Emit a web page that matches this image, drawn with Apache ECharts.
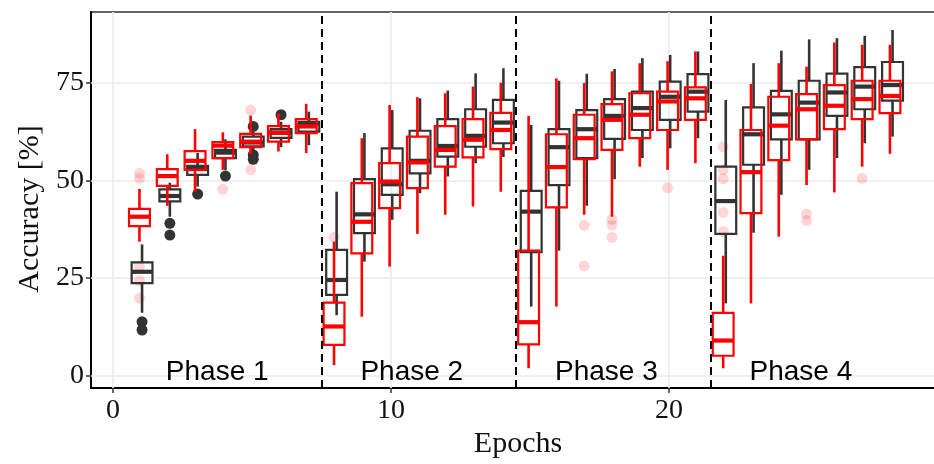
<!DOCTYPE html>
<html>
<head>
<meta charset="utf-8">
<script src="https://cdn.jsdelivr.net/npm/echarts@6/dist/echarts.min.js"></script>
<style>html,body{margin:0;padding:0;background:#fff}#c{width:934px;height:464px}</style>
</head>
<body>
<div id="c"></div>
<script>
// ---- data ----
const epochs = [1,2,3,4,5,6,7,8,9,10,11,12,13,14,15,16,17,18,19,20,21,22,23,24,25,26,27,28];
// [low whisker, Q1, median, Q3, high whisker]
const darkStats = [
  [16.1,23.7,26.6,29.0,33.6],[40.7,44.6,46.0,47.7,49.4],[48.4,51.4,52.9,53.7,57.0],[52.6,55.7,57.1,57.8,60.5],
  [57.5,58.7,59.7,61.2,62.5],[58.5,60.9,62.2,63.1,65.0],[59.0,62.5,64.6,65.0,67.6],
  [15.5,20.7,24.5,32.2,47.1],[29.2,36.5,41.3,50.3,62.1],[39.9,46.3,49.0,58.2,68.0],[46.7,51.8,55.0,62.7,71.0],
  [51.0,56.1,58.8,65.7,73.0],[54.4,58.6,61.4,68.2,77.4],[56.0,59.5,64.8,70.6,78.7],
  [17.7,31.6,42.0,47.3,64.2],[32.0,48.8,58.5,63.1,75.5],[43.5,55.7,63.1,68.0,77.3],[50.3,60.6,66.5,70.8,78.5],
  [55.7,62.9,68.5,72.7,81.3],[58.2,65.5,71.4,75.3,82.1],[60.8,67.6,72.7,77.2,83.0],
  [18.5,36.3,44.7,53.5,70.6],[36.6,54.0,61.8,68.7,80.0],[46.3,60.5,66.9,72.9,83.2],[52.7,60.5,69.9,75.5,86.1],
  [55.7,66.5,72.5,77.3,86.4],[59.5,68.2,74.0,79.0,87.0],[61.2,70.4,74.4,80.3,88.5]
];
const redStats = [
  [34.3,38.3,40.7,42.7,47.8],[43.5,48.6,51.1,52.9,56.7],[47.1,52.7,55.0,57.5,63.1],[52.7,55.7,58.9,59.8,62.3],
  [56.7,58.5,59.9,61.9,66.6],[57.4,59.9,62.2,63.9,67.2],[57.0,62.1,63.8,65.7,69.6],
  [2.7,7.9,12.6,18.7,34.3],[15.1,31.3,39.4,49.3,60.8],[27.9,42.9,49.7,54.4,69.3],[36.3,48.0,54.6,61.2,71.3],
  [41.2,53.5,57.8,63.9,72.3],[43.3,55.9,60.4,65.7,74.0],[47.1,58.0,62.9,67.3,75.0],
  [1.9,8.0,13.7,32.0,66.5],[17.7,43.1,53.4,61.8,76.1],[41.2,55.4,60.8,66.8,74.9],[40.7,57.8,65.5,69.5,77.9],
  [53.5,60.8,66.8,72.3,80.0],[52.7,62.9,70.2,72.7,80.5],[54.4,65.5,71.0,73.8,83.0],
  [1.9,5.1,9.0,16.1,30.7],[18.5,41.6,52.1,62.9,74.7],[35.6,55.2,64.0,71.4,80.0],[48.8,60.5,68.2,72.1,79.1],
  [46.9,63.1,69.1,74.4,85.3],[53.5,65.7,70.8,75.5,84.7],[56.8,67.2,71.6,75.5,84.7]
];
const darkOutliers = [[1,13.8],[1,11.7],[2,39.0],[2,36.0],[3,46.5],[4,51.1],[5,63.8],[5,56.5],[5,55.4],[6,66.8]];
const redOutliers = [[1,51.8],[1,50.5],[1,27.9],[1,24.3],[1,19.8],[4,47.7],[5,68.0],[5,52.7],[8,35.4],
  [17,38.5],[17,28.1],[18,40.0],[18,38.6],[18,35.4],[20,48.1],[22,58.6],[22,52.7],[22,50.4],[22,41.8],[22,36.9],
  [25,41.4],[25,39.7],[27,50.5]];
const phaseBreaks = [7.5, 14.5, 21.5];
const phaseNames = ['Phase 1','Phase 2','Phase 3','Phase 4'];
const phaseX = [3.75, 10.75, 17.75, 24.75];
const xTicks = [0, 10, 20];
const yTicks = [0, 25, 50, 75];

// ---- style ----
const DARK = '#333333', RED = '#ff0000';
const serif = '"Liberation Serif", "DejaVu Serif", serif';
const sans = '"Liberation Sans", Arial, sans-serif';

function boxRender(color, offset) {
  return function (params, api) {
    const x = api.value(0);
    const cx = api.coord([x, 0])[0] + offset;
    const yLo = api.coord([x, api.value(1)])[1];
    const yQ1 = api.coord([x, api.value(2)])[1];
    const yMed = api.coord([x, api.value(3)])[1];
    const yQ3 = api.coord([x, api.value(4)])[1];
    const yHi = api.coord([x, api.value(5)])[1];
    const hw = api.size([0.75, 0])[0] / 2;
    return {
      type: 'group',
      children: [
        {type:'line', shape:{x1:cx,y1:yHi,x2:cx,y2:yQ3}, style:{stroke:color,lineWidth:2.6}},
        {type:'line', shape:{x1:cx,y1:yQ1,x2:cx,y2:yLo}, style:{stroke:color,lineWidth:2.6}},
        {type:'rect', shape:{x:cx-hw,y:yQ3,width:2*hw,height:yQ1-yQ3}, style:{fill:'none',stroke:color,lineWidth:2.2}},
        {type:'line', shape:{x1:cx-hw,y1:yMed,x2:cx+hw,y2:yMed}, style:{stroke:color,lineWidth:4.2}}
      ]
    };
  };
}

const chart = echarts.init(document.getElementById('c'), null, {renderer:'canvas'});
const option = {
  animation: false,
  backgroundColor: '#fff',
  grid: {left: 91, top: 12, width: 850, height: 376, outerBoundsMode: 'none', containLabel: false,
         show: true, borderColor: '#333', borderWidth: 1.5, backgroundColor: '#fff'},
  xAxis: {
    type: 'value', min: -0.79, max: 29.79,
    axisLine: {show: true, onZero: false, lineStyle: {color: '#000', width: 2}},
    axisTick: {show: true, length: 5, customValues: xTicks, lineStyle: {color: '#333', width: 1.5}},
    axisLabel: {customValues: xTicks, color: '#111', fontFamily: serif, fontSize: 28, margin: 9},
    splitLine: {show: false}
  },
  yAxis: {
    type: 'value', min: -3.15, max: 93.1,
    axisLine: {show: true, onZero: false, lineStyle: {color: '#000', width: 2}},
    axisTick: {show: true, length: 5, customValues: yTicks, lineStyle: {color: '#333', width: 1.5}},
    axisLabel: {customValues: yTicks, color: '#111', fontFamily: serif, fontSize: 28, margin: 7},
    splitLine: {show: false}
  },
  graphic: [
    {type:'text', x: 30, y: 209, rotation: Math.PI/2, style:{text:'Accuracy [%]', font:'30px ' + serif, fill:'#111', textAlign:'center', textVerticalAlign:'middle'}},
    {type:'text', x: 518, y: 444, style:{text:'Epochs', font:'30px ' + serif, fill:'#111', textAlign:'center', textVerticalAlign:'middle'}}
  ],
  series: [
    {
      type: 'scatter', silent: true, data: [], z: 1,
      markLine: {
        silent: true, symbol: 'none', z: 1, animation: false,
        label: {show: false},
        lineStyle: {color: '#ebebeb', width: 1.6, type: 'solid'},
        data: xTicks.map(v => ({xAxis: v})).concat(yTicks.map(v => ({yAxis: v})))
      }
    },
    {
      type: 'scatter', name: 'darkOut', z: 3,
      data: darkOutliers, symbol: 'circle', symbolSize: 11, symbolOffset: [1.3, 0],
      itemStyle: {color: DARK, opacity: 1}
    },
    {
      type: 'scatter', name: 'redOut', z: 3,
      data: redOutliers, symbol: 'circle', symbolSize: 11, symbolOffset: [-1.3, 0],
      itemStyle: {color: 'rgba(255,0,0,0.16)', opacity: 1}
    },
    {
      type: 'custom', name: 'dark', z: 4,
      renderItem: boxRender(DARK, 1.3),
      encode: {x: 0, y: [1,2,3,4,5]},
      data: epochs.map((e, i) => [e].concat(darkStats[i]))
    },
    {
      type: 'custom', name: 'red', z: 5,
      renderItem: boxRender(RED, -1.3),
      encode: {x: 0, y: [1,2,3,4,5]},
      data: epochs.map((e, i) => [e].concat(redStats[i]))
    },
    {
      type: 'scatter', silent: true, data: [], z: 6,
      markLine: {
        silent: true, symbol: 'none', z: 6, animation: false,
        label: {show: false},
        lineStyle: {color: '#000', width: 2, type: [8, 5]},
        data: phaseBreaks.map(v => ({xAxis: v}))
      }
    },
    {
      type: 'custom', name: 'phases', z: 7, silent: true,
      renderItem: function (params, api) {
        const p = api.coord([api.value(0), api.value(1)]);
        return {type:'text', x: p[0], y: p[1], style:{text: phaseNames[params.dataIndex], font: '28px ' + sans, fill:'#000', textAlign:'center', textVerticalAlign:'middle'}};
      },
      encode: {x: 0, y: 1},
      data: phaseX.map(x => [x, 1])
    }
  ]
};
chart.setOption(option);
</script>
</body>
</html>
